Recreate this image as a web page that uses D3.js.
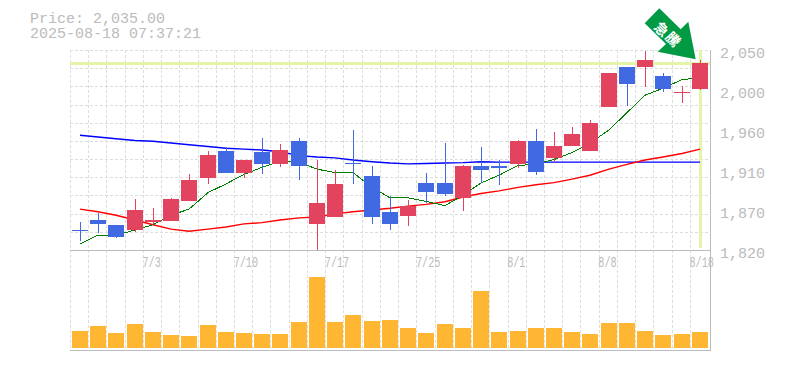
<!DOCTYPE html>
<html>
<head>
<meta charset="utf-8">
<script src="https://cdn.jsdelivr.net/npm/d3@7"></script>
<style>
  body { margin: 0; background: #fff; }
  text { font-family: "Liberation Mono", monospace; fill: #bbb; }
</style>
</head>
<body>
<svg id="chart" width="785" height="370"></svg>
<script>
const dates = ['6/27','6/30','7/1','7/2','7/3','7/4','7/7','7/8','7/9','7/10','7/11','7/14','7/15','7/16','7/17','7/18','7/22','7/23','7/24','7/25','7/28','7/29','7/30','7/31','8/1','8/4','8/5','8/6','8/7','8/8','8/12','8/13','8/14','8/15','8/18'];
const dateLabels = ['7/3','7/10','7/17','7/25','8/1','8/8','8/18'];
const priceTicks = [2050, 2004, 1958, 1912, 1866, 1820];
const open = [1843.5,1854.5,1849,1843,1852,1853.5,1876.5,1903,1934,1908.5,1932.5,1919,1945.5,1850,1858,1920.5,1905,1864,1859,1897,1897,1880,1916.5,1916.5,1919,1945.5,1926,1939.5,1934,1984.5,2030.5,2030.5,2020,2000,2005];
const close = [1843,1850,1835,1866,1854.5,1878.5,1900.5,1929,1908.5,1923.5,1919,1935,1916.5,1874,1896,1920,1858,1850,1870.5,1887,1884.5,1916.5,1912,1914,1945.5,1909.5,1939.5,1953.5,1966,2023.5,2011,2038.5,2005,2002,2035];
const high = [1852,1862.5,1849,1879,1868.5,1880,1907.5,1934,1938.5,1923.5,1949,1942,1949,1923.5,1912,1958,1916.5,1882,1877.5,1908.5,1943,1917.5,1938.5,1923.5,1946.5,1959,1955.5,1961.5,1969.5,2023.5,2030.5,2049,2023.5,2008.5,2038.5];
const low = [1830,1839.5,1834,1841,1847.5,1853.5,1876.5,1896,1908.5,1903,1907.5,1915.5,1900.5,1820,1858,1896,1850,1843,1847.5,1874,1882,1865,1897,1895,1914,1906,1922,1939.5,1934,1984.5,1985.5,2007.5,2001.5,1989,2004];
const volume = [17,22,15,24,16,13,12,23,16,15,14,14,26,71,26,33,27,28,20,15,24,20,57,16,17,20,20,16,14,25,25,17,13,14,16];
const maShort = [1827,1837,1837,1843,1849,1860,1867,1886,1896,1907,1915,1922,1921,1913,1909,1909,1892,1880,1880,1876,1871,1883,1897,1906,1917,1919,1924,1932,1943,1958,1978,1998,2006,2016,2018];
const maMid = [1867,1864,1860,1854.5,1849,1844,1841.5,1844,1846.5,1850,1851.5,1854.5,1857,1858,1861.5,1864,1866,1868,1870.5,1872.5,1875.5,1881,1885,1888,1892,1895,1897.5,1901.5,1906,1913,1918.5,1923.5,1927,1931,1936];
const maLong = [1952,1950,1948,1946,1945,1943,1941,1939,1937,1936,1935,1933,1928.5,1927,1926,1923.5,1921.5,1920,1919,1919.5,1920,1920.5,1921.5,1921,1921,1921,1921,1921,1921,1921,1921,1921,1921,1921,1921];
const lastPrice = 2035;
const stamp = '2025-08-18 07:37:21';

const red = '#e2435f', blue = '#4169e1', orange = '#ffb733', yellowLine = '#e4f5a9';
const gridColor = '#ddd', axisColor = '#bbb';

const svg = d3.select('#chart');

const left = 70.4, right = 708.6;
const x = d3.scaleBand().domain(dates).range([left, right]);
const y = d3.scaleLinear().domain([1820, 2050]).range([250, 50]);
const yVol = d3.scaleLinear().domain([0, 71]).range([348, 277]);
const mid = d => Math.floor(x(d)) + 10;

// grid
const gridG = svg.append('g').attr('shape-rendering', 'crispEdges')
  .attr('stroke', gridColor).attr('stroke-dasharray', '3,2');
gridG.selectAll('.v')
  .data(dates)
  .enter().append('line')
  .attr('x1', d => Math.floor(x(d)) + 0.5)
  .attr('x2', d => Math.floor(x(d)) + 0.5)
  .attr('y1', 50).attr('y2', 350);
gridG.selectAll('.h')
  .data(d3.range(0, 11))
  .enter().append('line')
  .attr('x1', 70).attr('x2', 710)
  .attr('y1', d => Math.round(50 + d * 200 / 11) + 0.5)
  .attr('y2', d => Math.round(50 + d * 200 / 11) + 0.5);

// current price cross
svg.append('rect').attr('x', 70).attr('width', 640)
  .attr('y', Math.round(y(lastPrice)) - 1).attr('height', 3).attr('fill', yellowLine);
svg.append('rect').attr('x', mid(dates[34]) - 1).attr('width', 3)
  .attr('y', 50).attr('height', 198).attr('fill', yellowLine);

// moving averages
const line = d3.line().x((d, i) => mid(dates[i])).y(d => y(d));
[[maLong, '#0000ff', 1.4, 'auto'], [maMid, '#ff0000', 1.4, 'auto'], [maShort, '#008000', 1, 'crispEdges']].forEach(([s, c, w, r]) => {
  svg.append('path').attr('d', line(s)).attr('fill', 'none')
    .attr('stroke', c).attr('stroke-width', w).attr('shape-rendering', r);
});

// candles
const candles = svg.selectAll('.candle')
  .data(dates)
  .enter().append('g')
  .attr('shape-rendering', 'crispEdges')
  .attr('fill', (d, i) => close[i] >= open[i] ? red : blue);
candles.append('rect')
  .attr('x', d => mid(d)).attr('width', 1)
  .attr('y', (d, i) => y(high[i]))
  .attr('height', (d, i) => y(low[i]) - y(high[i]));
candles.append('rect')
  .attr('x', d => mid(d) - 8).attr('width', 16)
  .attr('y', (d, i) => y(Math.max(open[i], close[i])))
  .attr('height', (d, i) => Math.max(1, Math.abs(y(open[i]) - y(close[i]))));

// volume
svg.selectAll('.vol')
  .data(dates)
  .enter().append('rect')
  .attr('shape-rendering', 'crispEdges')
  .attr('fill', orange)
  .attr('x', d => mid(d) - 8).attr('width', 16)
  .attr('y', (d, i) => yVol(volume[i]))
  .attr('height', (d, i) => 348 - yVol(volume[i]));

// frame
const frame = svg.append('g').attr('stroke', axisColor).attr('stroke-width', 1.4).attr('shape-rendering', 'crispEdges');
frame.append('line').attr('x1', 70).attr('x2', 711).attr('y1', 250.5).attr('y2', 250.5);
frame.append('line').attr('x1', 70).attr('x2', 711).attr('y1', 350.5).attr('y2', 350.5);
frame.append('line').attr('x1', 710.5).attr('x2', 710.5).attr('y1', 50).attr('y2', 350);

// axes
const yAxis = svg.append('g').attr('transform', 'translate(711,0)')
  .call(d3.axisRight(y).tickValues(priceTicks).tickSize(0).tickPadding(9)
    .tickFormat(d => d3.format(',')(Math.round(d / 10) * 10)));
yAxis.select('.domain').remove();
yAxis.selectAll('text').attr('font-size', 15).attr('dy', 7).style('fill', axisColor);

const xAxis = svg.append('g').attr('transform', 'translate(0,250)')
  .call(d3.axisBottom(x).tickValues(dateLabels).tickSize(0));
xAxis.select('.domain').remove();
xAxis.selectAll('text')
  .attr('font-size', 14).attr('font-family', '"Liberation Mono", monospace')
  .attr('text-anchor', 'start').attr('x', -10).attr('y', 17).attr('dy', 0)
  .attr('textLength', d => d.length * 6.1).attr('lengthAdjust', 'spacingAndGlyphs')
  .style('fill', axisColor);

// header
svg.append('text').attr('x', 30).attr('y', 23).attr('font-size', 15).text('Price: ' + d3.format(',.2f')(lastPrice));
svg.append('text').attr('x', 30).attr('y', 38).attr('font-size', 15).text(stamp);

// arrow
svg.append('polygon')
  .attr('points', [[659.3, 8.3], [644.7, 23.3], [666, 44], [657.7, 51.7], [695.7, 59.3], [688.3, 21.7], [680.7, 29.3]].join(' '))
  .attr('fill', '#009a44');
svg.append('text').attr('transform', 'translate(662,29) rotate(45)')
  .attr('text-anchor', 'middle').attr('dy', '0.4em')
  .attr('font-size', 14).attr('font-weight', 'bold')
  .style('font-family', '"Noto Sans CJK JP"').style('fill', '#fff').text('急');
svg.append('text').attr('transform', 'translate(673.5,39) rotate(45)')
  .attr('text-anchor', 'middle').attr('dy', '0.4em')
  .attr('font-size', 14).attr('font-weight', 'bold')
  .style('font-family', '"Noto Sans CJK JP"').style('fill', '#fff').text('騰');
</script>
</body>
</html>
